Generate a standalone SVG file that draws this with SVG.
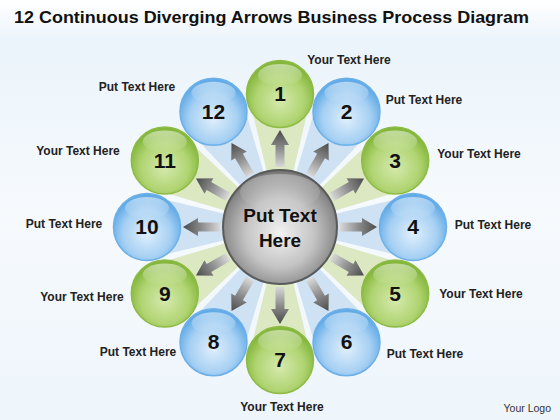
<svg xmlns="http://www.w3.org/2000/svg" xmlns:xlink="http://www.w3.org/1999/xlink" width="560" height="420" viewBox="0 0 560 420">
<style>
.title{font-family:"Liberation Sans",Arial,sans-serif;font-weight:bold;font-size:17px;fill:#111}
.lbl{font-family:"Liberation Sans",Arial,sans-serif;font-weight:bold;font-size:12px;fill:#222;text-anchor:middle}
.num{font-family:"Liberation Sans",Arial,sans-serif;font-weight:bold;font-size:21px;fill:#111;text-anchor:middle}
.ctr{font-family:"Liberation Sans",Arial,sans-serif;font-weight:bold;font-size:19px;fill:#111;text-anchor:middle}
.logo{font-family:"Liberation Sans",Arial,sans-serif;font-size:10.5px;fill:#333;text-anchor:end}
.g{fill:url(#gGreen);stroke:#8dbb45;stroke-width:1.5}
.b{fill:url(#gBlue);stroke:#6db0e8;stroke-width:1.5}
.hl{fill:url(#gHl)}
.wg{fill:#dbe8c2}
.wb{fill:#cfe2f4}
</style>
<defs>
<linearGradient id="bg" x1="0" y1="0" x2="0" y2="1">
<stop offset="0" stop-color="#ffffff"/>
<stop offset="0.1" stop-color="#ebf4fb"/>
<stop offset="0.5" stop-color="#f6fafd"/>
<stop offset="1" stop-color="#eef5fb"/>
</linearGradient>
<radialGradient id="gGreen" cx="0.5" cy="0.6" r="0.55">
<stop offset="0" stop-color="#d6eaae"/>
<stop offset="0.65" stop-color="#b0d472"/>
<stop offset="1" stop-color="#84b73c"/>
</radialGradient>
<radialGradient id="gBlue" cx="0.5" cy="0.6" r="0.55">
<stop offset="0" stop-color="#e0effc"/>
<stop offset="0.65" stop-color="#a6d0f3"/>
<stop offset="1" stop-color="#62abe7"/>
</radialGradient>
<radialGradient id="gGray" cx="0.5" cy="0.55" r="0.55">
<stop offset="0" stop-color="#f2f2f2"/>
<stop offset="0.55" stop-color="#c4c4c4"/>
<stop offset="0.9" stop-color="#8a8a8a"/>
<stop offset="1" stop-color="#6e6e6e"/>
</radialGradient>
<linearGradient id="gHl" x1="0" y1="0" x2="0" y2="1">
<stop offset="0" stop-color="#ffffff" stop-opacity="0.5"/>
<stop offset="1" stop-color="#ffffff" stop-opacity="0"/>
</linearGradient>
<linearGradient id="gArr" gradientUnits="userSpaceOnUse" x1="0" y1="-60" x2="0" y2="-97">
<stop offset="0" stop-color="#d8d8d8"/>
<stop offset="0.5" stop-color="#8c8c8c"/>
<stop offset="1" stop-color="#4a4a4a"/>
</linearGradient>
<path id="arrow" d="M-4.5,-60 L-4.5,-82 L-9,-82 L0,-97 L9,-82 L4.5,-82 L4.5,-60 Z" fill="url(#gArr)"/>
<polygon id="wedge" points="0,0 -33,-138 33,-138"/>
</defs>
<rect width="560" height="420" fill="url(#bg)"/>
<text class="title" x="14" y="23" textLength="515" lengthAdjust="spacingAndGlyphs">12 Continuous Diverging Arrows Business Process Diagram</text>

<g id="wedges" transform="translate(280,227)">
<use xlink:href="#wedge" class="wg" transform="rotate(0)"/>
<use xlink:href="#wedge" class="wb" transform="rotate(30)"/>
<use xlink:href="#wedge" class="wg" transform="rotate(60)"/>
<use xlink:href="#wedge" class="wb" transform="rotate(90)"/>
<use xlink:href="#wedge" class="wg" transform="rotate(120)"/>
<use xlink:href="#wedge" class="wb" transform="rotate(150)"/>
<use xlink:href="#wedge" class="wg" transform="rotate(180)"/>
<use xlink:href="#wedge" class="wb" transform="rotate(210)"/>
<use xlink:href="#wedge" class="wg" transform="rotate(240)"/>
<use xlink:href="#wedge" class="wb" transform="rotate(270)"/>
<use xlink:href="#wedge" class="wg" transform="rotate(300)"/>
<use xlink:href="#wedge" class="wb" transform="rotate(330)"/>
</g>

<g id="connectors" transform="translate(280,227)">
<use xlink:href="#arrow" transform="rotate(0)"/>
<use xlink:href="#arrow" transform="rotate(30)"/>
<use xlink:href="#arrow" transform="rotate(60)"/>
<use xlink:href="#arrow" transform="rotate(90)"/>
<use xlink:href="#arrow" transform="rotate(120)"/>
<use xlink:href="#arrow" transform="rotate(150)"/>
<use xlink:href="#arrow" transform="rotate(180)"/>
<use xlink:href="#arrow" transform="rotate(210)"/>
<use xlink:href="#arrow" transform="rotate(240)"/>
<use xlink:href="#arrow" transform="rotate(270)"/>
<use xlink:href="#arrow" transform="rotate(300)"/>
<use xlink:href="#arrow" transform="rotate(330)"/>
</g>

<g id="center">
<circle cx="280" cy="227" r="57" fill="url(#gGray)" stroke="#5a5a5a" stroke-width="2"/>
<ellipse cx="280" cy="192" rx="40" ry="18" class="hl" opacity="0.6"/>
<text class="ctr" x="280" y="222">Put Text</text>
<text class="ctr" x="280" y="247">Here</text>
</g>

<g id="node1"><circle class="g" cx="280" cy="94" r="33.5"/><ellipse class="hl" cx="280" cy="75" rx="22" ry="11"/><text class="num" x="280" y="101">1</text><text class="lbl" x="349" y="64">Your Text Here</text></g>
<g id="node2"><circle class="b" cx="346.5" cy="111.8" r="33.5"/><ellipse class="hl" cx="346.5" cy="92.8" rx="22" ry="11"/><text class="num" x="346.5" y="118.8">2</text><text class="lbl" x="424" y="104">Put Text Here</text></g>
<g id="node3"><circle class="g" cx="395.2" cy="160.5" r="33.5"/><ellipse class="hl" cx="395.2" cy="141.5" rx="22" ry="11"/><text class="num" x="395.2" y="167.5">3</text><text class="lbl" x="479" y="158">Your Text Here</text></g>
<g id="node4"><circle class="b" cx="413" cy="227" r="33.5"/><ellipse class="hl" cx="413" cy="208" rx="22" ry="11"/><text class="num" x="413" y="234">4</text><text class="lbl" x="493" y="229">Put Text Here</text></g>
<g id="node5"><circle class="g" cx="395.2" cy="293.5" r="33.5"/><ellipse class="hl" cx="395.2" cy="274.5" rx="22" ry="11"/><text class="num" x="395.2" y="300.5">5</text><text class="lbl" x="481" y="298">Your Text Here</text></g>
<g id="node6"><circle class="b" cx="346.5" cy="342.2" r="33.5"/><ellipse class="hl" cx="346.5" cy="323.2" rx="22" ry="11"/><text class="num" x="346.5" y="349.2">6</text><text class="lbl" x="425" y="358">Put Text Here</text></g>
<g id="node7"><circle class="g" cx="280" cy="360" r="33.5"/><ellipse class="hl" cx="280" cy="341" rx="22" ry="11"/><text class="num" x="280" y="367">7</text><text class="lbl" x="282" y="411">Your Text Here</text></g>
<g id="node8"><circle class="b" cx="213.5" cy="342.2" r="33.5"/><ellipse class="hl" cx="213.5" cy="323.2" rx="22" ry="11"/><text class="num" x="213.5" y="349.2">8</text><text class="lbl" x="138" y="356">Put Text Here</text></g>
<g id="node9"><circle class="g" cx="164.8" cy="293.5" r="33.5"/><ellipse class="hl" cx="164.8" cy="274.5" rx="22" ry="11"/><text class="num" x="164.8" y="300.5">9</text><text class="lbl" x="82" y="301">Your Text Here</text></g>
<g id="node10"><circle class="b" cx="147" cy="227" r="33.5"/><ellipse class="hl" cx="147" cy="208" rx="22" ry="11"/><text class="num" x="147" y="234">10</text><text class="lbl" x="64" y="228">Put Text Here</text></g>
<g id="node11"><circle class="g" cx="164.8" cy="160.5" r="33.5"/><ellipse class="hl" cx="164.8" cy="141.5" rx="22" ry="11"/><text class="num" x="164.8" y="167.5">11</text><text class="lbl" x="78" y="155">Your Text Here</text></g>
<g id="node12"><circle class="b" cx="213.5" cy="111.8" r="33.5"/><ellipse class="hl" cx="213.5" cy="92.8" rx="22" ry="11"/><text class="num" x="213.5" y="118.8">12</text><text class="lbl" x="137" y="91">Put Text Here</text></g>

<text class="logo" x="551" y="412">Your Logo</text>
</svg>
